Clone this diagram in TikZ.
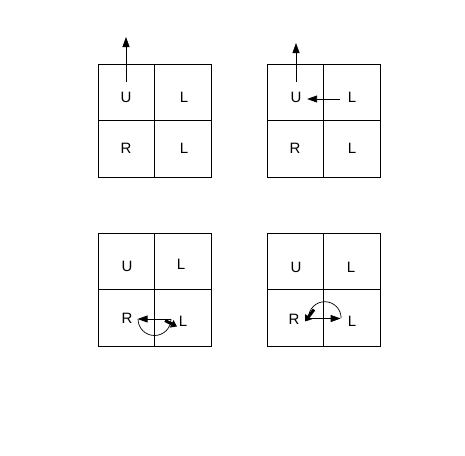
\documentclass[tikz,border=0pt]{standalone}
\usepackage{fontspec}
\setmainfont{Liberation Sans}
\usetikzlibrary{arrows.meta}
\begin{document}
\begin{tikzpicture}[x=1pt,y=-1pt,
  grid/.style={draw=black,line width=0.8pt},
  lbl/.style={inner sep=0pt,font=\fontsize{15}{17}\selectfont},
  arr/.style={line width=0.8pt,-{Triangle[length=10pt,width=7pt]}},
  blob/.style={line width=3pt,-{Triangle[length=6pt,width=8pt]}},
  semi/.style={line width=0.7pt}]
\useasboundingbox (0,0) rectangle (465,455);
% grids
\draw[grid] (98,64) rectangle (211,177) (154.5,64) -- (154.5,177) (98,120.5) -- (211,120.5);
\draw[grid] (267,64) rectangle (380,177) (323.5,64) -- (323.5,177) (267,120.5) -- (380,120.5);
\draw[grid] (98,233) rectangle (211,346) (154.5,233) -- (154.5,346) (98,289.5) -- (211,289.5);
\draw[grid] (267,233) rectangle (380,346) (323.5,233) -- (323.5,346) (267,289.5) -- (380,289.5);
% grid 1
\node[lbl] (a1) at (126,97) {U};
\node[lbl] (a2) at (184,97) {L};
\node[lbl] (a3) at (126,148) {R};
\node[lbl] (a4) at (184,148) {L};
\coordinate (at) at (126,37);
\draw[arr,shorten <=10pt] (a1.north) -- (at);
% grid 2
\node[lbl] (b1) at (296,97) {U};
\node[lbl] (b2) at (352,97) {L};
\node[lbl] (b3) at (295,148) {R};
\node[lbl] (b4) at (352,148) {L};
\coordinate (bt) at (296,43);
\draw[arr,shorten <=10pt] (b1.north) -- (bt);
\coordinate (bh) at (0,99);
\draw[arr,shorten <=8pt,shorten >=5.5pt] (b2.west|-bh) -- (b1.east|-bh);
% grid 3
\node[lbl] (c1) at (127,266) {U};
\node[lbl] (c2) at (181,264) {L};
\node[lbl] (c3) at (127,318) {R};
\node[lbl] (c4) at (183,321) {L};
\coordinate (ch) at (0,319);
\draw[arr,shorten <=8pt,shorten >=5pt] (c4.west|-ch) -- (c3.east|-ch);
\draw[semi] (138,319) arc[start angle=180,end angle=0,radius=16.5];
\draw[blob] (165,320.5) -- (177,326.5);
% grid 4
\node[lbl] (d1) at (296,267) {U};
\node[lbl] (d2) at (351,267) {L};
\node[lbl] (d3) at (294,319) {R};
\node[lbl] (d4) at (352,321) {L};
\coordinate (dh) at (0,318.5);
\draw[arr,shorten <=8pt,shorten >=7pt] (d3.east|-dh) -- (d4.west|-dh);
\draw[semi] (308.5,318) arc[start angle=180,end angle=360,radius=16.3];
\draw[blob] (314,309.5) -- (305,321.5);
\end{tikzpicture}
\end{document}
